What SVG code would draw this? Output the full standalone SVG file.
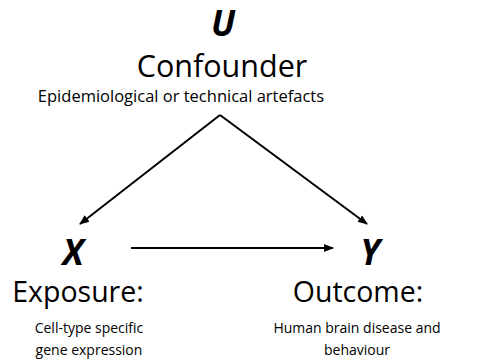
<svg xmlns="http://www.w3.org/2000/svg" width="478" height="362" viewBox="0 0 478 362">
<defs>
<style>
text{font-family:"Open Sans","Liberation Sans",sans-serif;fill:#000;text-anchor:middle}
.v{font-weight:bold;font-style:italic;font-size:35px}
.h{font-size:28.5px}
.c{font-size:30.5px}
.s{font-size:14px}
.s2{font-size:16.5px}
.e{stroke:#000;stroke-width:2;fill:none}
</style>
<marker id="a" viewBox="0 0 10 10" refX="9" refY="5" markerWidth="5" markerHeight="5" orient="auto"><path d="M0,1 L10,5 L0,9 z" fill="#000"/></marker>
</defs>
<rect width="478" height="362" fill="#fff"/>
<g id="connectors">
<line class="e" x1="220" y1="115" x2="80" y2="224" marker-end="url(#a)"/>
<line class="e" x1="220" y1="115" x2="367" y2="224" marker-end="url(#a)"/>
<line class="e" x1="131" y1="248" x2="333" y2="248" marker-end="url(#a)"/>
</g>
<g id="U">
<text class="v" x="223" y="36">U</text>
<text class="c" x="222" y="77">Confounder</text>
<text class="s2" x="181" y="102">Epidemiological or technical artefacts</text>
</g>
<g id="X">
<text class="v" x="73" y="265">X</text>
<text class="h" x="78" y="302">Exposure:</text>
<text class="s" x="89" y="333">Cell-type specific</text>
<text class="s" x="89" y="355">gene expression</text>
</g>
<g id="Y">
<text class="v" x="370" y="265">Y</text>
<text class="h" x="358" y="302">Outcome:</text>
<text class="s" x="357" y="333">Human brain disease and</text>
<text class="s" x="357" y="355">behaviour</text>
</g>
</svg>
